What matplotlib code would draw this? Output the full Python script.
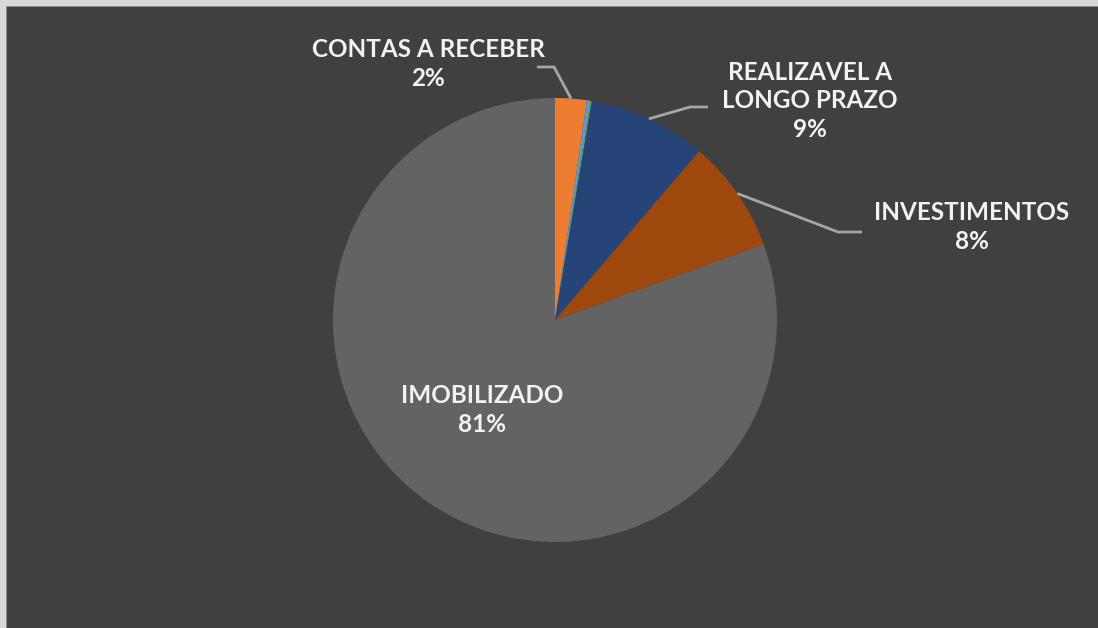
import matplotlib.pyplot as plt
from matplotlib.patches import Rectangle
import numpy as np

plt.rcParams['font.family'] = ['Lato', 'DejaVu Sans']

# data (Excel default palette; tiny unlabeled slices included)
labels = ['CONTAS A RECEBER', '', '', 'REALIZAVEL A\nLONGO PRAZO', 'INVESTIMENTOS', 'IMOBILIZADO']
values = [2.3, 0.25, 0.1, 8.6, 8.2, 80.55]
colors = ['#ed7d31', '#5b9bd5', '#70ad47', '#264478', '#9e480e', '#636363']

W, H = 1098, 628
cx, cy, R = 555, 320, 222   # pie centre / radius in pixels
bg = '#404040'

fig = plt.figure(figsize=(W / 100, H / 100), dpi=100, facecolor=bg)
ax = fig.add_axes([0, 0, 1, 1])
ax.set_facecolor(bg)

wedges, _ = ax.pie(values, colors=colors, startangle=90, counterclock=False,
                   wedgeprops=dict(linewidth=0))
ax.set_xlim(-cx / R, (W - cx) / R)
ax.set_ylim((cy - H) / R, cy / R)
ax.axis('off')

def px(x, y):
    return (x - cx) / R, (cy - y) / R

total = sum(values)
pct = [f"{round(v / total * 100)}%" for v in values]

# label positions (pixels) and leader elbows
lab_pos = {0: (428, 64), 3: (810, 101), 4: (972, 227), 5: (482, 410)}
leaders = {0: [(537, 67), (554, 67)], 3: [(708, 107), (690, 107)], 4: [(862, 232), (838, 232)]}

for i, (x, y) in lab_pos.items():
    tx, ty = px(x, y)
    ax.text(tx, ty, labels[i] + '\n' + pct[i], ha='center', va='center',
            color='#f2f2f2', fontsize=17.5, fontweight='bold', linespacing=1.3)

for i, pts in leaders.items():
    w = wedges[i]
    mid = np.deg2rad((w.theta1 + w.theta2) / 2)
    xs = [px(*p)[0] for p in pts] + [np.cos(mid)]
    ys = [px(*p)[1] for p in pts] + [np.sin(mid)]
    ax.plot(xs, ys, color='#a6a6a6', lw=2, solid_capstyle='butt')

# light frame at top and left (screenshot border)
fig.add_artist(Rectangle((0, 1 - 6 / H), 1, 6 / H, transform=fig.transFigure, color='#d9d9d9', lw=0))
fig.add_artist(Rectangle((0, 0), 6 / W, 1, transform=fig.transFigure, color='#d9d9d9', lw=0))
fig.add_artist(Rectangle((6 / W, 1 - 7 / H), 1, 1 / H, transform=fig.transFigure, color='#8c8c8c', lw=0))
fig.add_artist(Rectangle((6 / W, 0), 1 / W, 1 - 6 / H, transform=fig.transFigure, color='#8c8c8c', lw=0))

fig.savefig('out.png', dpi=100, facecolor=bg)
